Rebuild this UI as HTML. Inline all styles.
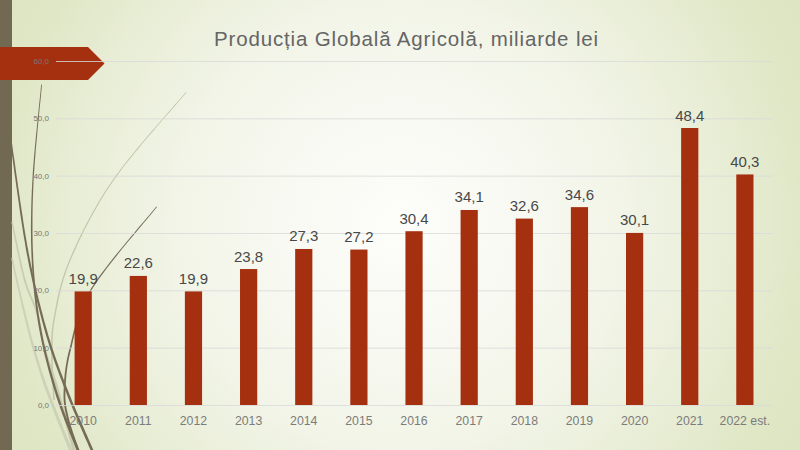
<!DOCTYPE html>
<html><head><meta charset="utf-8">
<style>
html,body{margin:0;padding:0;}
body{width:800px;height:450px;overflow:hidden;position:relative;font-family:"Liberation Sans",sans-serif;
background:radial-gradient(circle 459px at 400px 225px,#fdfdfa 0%,#f8f9f2 26%,#f1f4e6 50%,#e8edd5 72%,#e0e7c6 88%,#dde5c1 100%);}
svg{position:absolute;left:0;top:0;}
.title{position:absolute;left:214px;top:26.5px;font-size:20.5px;letter-spacing:0.85px;color:#656565;white-space:nowrap;}
.dl{position:absolute;width:80px;text-align:center;font-size:15px;line-height:16px;color:#484848;white-space:nowrap;}
.cl{position:absolute;width:80px;text-align:center;font-size:12.3px;line-height:14px;color:#7c7c7c;white-space:nowrap;}
.al{position:absolute;left:0;width:49px;text-align:right;font-size:8px;line-height:10px;color:#767676;}
</style></head><body>
<svg width="800" height="450" viewBox="0 0 800 450">
  <rect x="0" y="0" width="12" height="450" fill="#716952"/>
  <g>
    <path d="M185.9,91.9 L184.2,93.9 L182.3,96.2 L180.1,98.8 L177.6,101.6 L174.9,104.6 L172.1,107.9 L169.1,111.3 L165.9,115.0 L162.6,118.7 L159.2,122.7 L155.7,126.7 L152.1,130.8 L148.5,135.0 L144.9,139.2 L141.3,143.5 L137.7,147.7 L134.2,152.0 L130.8,156.2 L127.4,160.4 L124.2,164.5 L121.1,168.5 L118.2,172.4 L115.4,176.1 L112.9,179.7 L110.5,183.2 L108.1,186.7 L105.8,190.2 L103.6,193.7 L101.4,197.2 L99.3,200.7 L97.2,204.2 L95.2,207.7 L93.2,211.2 L91.3,214.6 L89.4,218.1 L87.6,221.5 L85.8,224.9 L84.1,228.2 L82.4,231.5 L80.8,234.8 L79.2,238.1 L77.7,241.3 L76.2,244.5 L74.7,247.7 L73.3,250.8 L72.0,253.8 L70.7,256.8 L69.4,259.8 L68.2,262.7 L67.1,265.5 L66.0,268.4 L65.0,271.2 L64.0,273.9 L63.1,276.7 L62.3,279.4 L61.5,282.0 L60.7,284.7 L60.0,287.3 L59.4,289.8 L58.8,292.3 L58.2,294.8 L57.6,297.3 L57.1,299.7 L56.6,302.1 L56.1,304.4 L55.7,306.7 L55.3,309.0 L54.9,311.3 L54.5,313.5 L54.1,315.6 L53.7,317.8 L53.3,319.9 L52.9,321.9 L52.6,323.9 L52.3,325.9 L52.1,327.7 L51.9,329.6 L51.7,331.3 L51.6,333.1 L51.4,334.8 L51.3,336.4 L51.2,338.1 L51.2,339.7 L51.1,341.2 L51.1,342.8 L51.1,344.3 L51.1,345.9 L51.1,347.4 L51.1,348.9 L51.1,350.5 L51.2,352.0 L51.2,353.6 L51.2,355.1 L51.2,356.7 L51.2,358.4 L51.2,360.0 L51.3,361.7 L51.3,363.5 L51.3,365.3 L51.4,367.2 L51.4,369.0 L51.5,371.0 L51.6,372.9 L51.7,374.9 L51.8,376.8 L51.9,378.7 L52.0,380.7 L52.1,382.5 L52.2,384.4 L52.3,386.2 L52.4,388.0 L52.5,389.7 L52.7,391.3 L52.8,392.9 L52.9,394.3 L52.9,395.7 L53.0,397.0 L53.1,398.1 L53.2,399.1 L53.2,400.0 L54.8,400.0 L54.7,399.1 L54.7,398.0 L54.6,396.9 L54.5,395.6 L54.4,394.2 L54.3,392.8 L54.2,391.2 L54.1,389.6 L54.0,387.9 L53.9,386.1 L53.8,384.3 L53.7,382.5 L53.5,380.6 L53.4,378.6 L53.3,376.7 L53.2,374.8 L53.1,372.8 L53.0,370.9 L53.0,369.0 L52.9,367.1 L52.8,365.3 L52.8,363.4 L52.8,361.7 L52.8,360.0 L52.7,358.3 L52.7,356.7 L52.7,355.1 L52.7,353.6 L52.7,352.0 L52.6,350.5 L52.6,348.9 L52.6,347.4 L52.6,345.9 L52.6,344.3 L52.6,342.8 L52.6,341.3 L52.6,339.7 L52.7,338.1 L52.8,336.5 L52.9,334.9 L53.0,333.2 L53.1,331.5 L53.3,329.7 L53.5,327.9 L53.8,326.1 L54.0,324.1 L54.3,322.2 L54.7,320.1 L55.1,318.0 L55.4,315.9 L55.8,313.7 L56.2,311.5 L56.6,309.3 L57.1,307.0 L57.5,304.7 L58.0,302.4 L58.4,300.0 L59.0,297.6 L59.5,295.1 L60.1,292.7 L60.7,290.1 L61.3,287.6 L62.0,285.0 L62.8,282.4 L63.5,279.8 L64.4,277.1 L65.3,274.4 L66.2,271.6 L67.2,268.8 L68.3,266.0 L69.4,263.1 L70.6,260.2 L71.8,257.3 L73.1,254.3 L74.5,251.3 L75.9,248.2 L77.3,245.0 L78.8,241.8 L80.3,238.6 L81.9,235.4 L83.5,232.1 L85.1,228.7 L86.9,225.4 L88.6,222.0 L90.4,218.6 L92.3,215.2 L94.2,211.7 L96.2,208.3 L98.2,204.8 L100.2,201.3 L102.4,197.8 L104.5,194.3 L106.7,190.8 L109.0,187.3 L111.4,183.8 L113.7,180.3 L116.3,176.7 L119.0,173.0 L121.9,169.1 L125.0,165.1 L128.2,161.0 L131.5,156.9 L135.0,152.6 L138.5,148.4 L142.0,144.1 L145.6,139.8 L149.2,135.6 L152.8,131.4 L156.3,127.3 L159.8,123.2 L163.2,119.3 L166.5,115.5 L169.7,111.9 L172.7,108.4 L175.6,105.2 L178.2,102.1 L180.7,99.3 L182.9,96.7 L184.8,94.4 L186.5,92.5Z" fill="#c3c6aa"/><path d="M11.2,258.2 L11.3,258.6 L11.4,259.1 L11.5,259.6 L11.6,260.1 L11.7,260.6 L11.8,261.2 L11.9,261.8 L12.0,262.5 L12.2,263.1 L12.3,263.8 L12.5,264.6 L12.6,265.4 L12.8,266.3 L13.0,267.2 L13.2,268.2 L13.4,269.2 L13.6,270.3 L13.9,271.5 L14.2,272.7 L14.4,274.1 L14.8,275.5 L15.1,277.0 L15.5,278.5 L15.8,280.2 L16.2,282.0 L16.7,283.9 L17.2,286.0 L17.7,288.1 L18.2,290.4 L18.7,292.8 L19.3,295.2 L19.9,297.8 L20.5,300.4 L21.1,303.0 L21.7,305.7 L22.3,308.5 L23.0,311.2 L23.6,314.0 L24.3,316.8 L25.0,319.6 L25.6,322.3 L26.3,325.1 L27.0,327.8 L27.6,330.4 L28.3,333.0 L28.9,335.5 L29.6,338.0 L30.2,340.3 L30.8,342.6 L31.4,344.8 L32.0,347.0 L32.6,349.1 L33.2,351.2 L33.8,353.3 L34.4,355.3 L35.0,357.3 L35.6,359.3 L36.2,361.3 L36.8,363.3 L37.4,365.2 L38.0,367.2 L38.6,369.2 L39.2,371.2 L39.9,373.2 L40.5,375.2 L41.2,377.3 L41.9,379.4 L42.6,381.5 L43.4,383.7 L44.1,385.9 L44.9,388.1 L45.7,390.5 L46.6,392.9 L47.5,395.4 L48.5,398.1 L49.6,400.8 L50.6,403.7 L51.7,406.6 L52.9,409.6 L54.1,412.6 L55.2,415.6 L56.4,418.7 L57.6,421.7 L58.8,424.7 L60.0,427.6 L61.1,430.5 L62.2,433.3 L63.3,436.1 L64.4,438.7 L65.4,441.2 L66.3,443.5 L67.2,445.7 L68.0,447.7 L68.7,449.6 L69.4,451.2 L69.9,452.6 L72.9,451.4 L72.3,450.0 L71.7,448.4 L70.9,446.5 L70.1,444.5 L69.2,442.3 L68.3,440.0 L67.2,437.5 L66.2,434.9 L65.1,432.2 L63.9,429.4 L62.7,426.5 L61.6,423.6 L60.4,420.6 L59.1,417.6 L57.9,414.6 L56.7,411.6 L55.5,408.6 L54.4,405.6 L53.2,402.7 L52.1,399.9 L51.1,397.1 L50.1,394.5 L49.1,391.9 L48.3,389.5 L47.4,387.3 L46.6,385.0 L45.9,382.8 L45.1,380.7 L44.4,378.6 L43.7,376.5 L43.0,374.4 L42.3,372.4 L41.6,370.4 L41.0,368.4 L40.3,366.5 L39.7,364.5 L39.1,362.5 L38.5,360.6 L37.9,358.6 L37.3,356.6 L36.7,354.6 L36.1,352.6 L35.5,350.5 L34.9,348.5 L34.3,346.3 L33.6,344.2 L33.0,342.0 L32.4,339.7 L31.7,337.4 L31.1,334.9 L30.4,332.4 L29.7,329.9 L29.1,327.2 L28.4,324.6 L27.7,321.8 L27.0,319.1 L26.3,316.3 L25.6,313.5 L25.0,310.8 L24.3,308.0 L23.6,305.3 L23.0,302.6 L22.3,299.9 L21.7,297.3 L21.1,294.8 L20.5,292.3 L20.0,290.0 L19.4,287.7 L18.9,285.5 L18.4,283.5 L18.0,281.6 L17.6,279.8 L17.2,278.1 L16.8,276.6 L16.5,275.1 L16.1,273.7 L15.8,272.4 L15.6,271.1 L15.3,270.0 L15.1,268.9 L14.8,267.8 L14.6,266.9 L14.4,265.9 L14.3,265.1 L14.1,264.3 L13.9,263.5 L13.8,262.8 L13.7,262.1 L13.5,261.5 L13.4,260.9 L13.3,260.3 L13.2,259.8 L13.1,259.3 L13.0,258.8 L12.9,258.3 L12.8,257.8Z" fill="#cdd1b5"/><path d="M11.3,222.1 L11.6,223.5 L11.9,225.0 L12.3,226.8 L12.7,228.8 L13.1,230.9 L13.6,233.2 L14.1,235.6 L14.6,238.2 L15.1,240.8 L15.7,243.5 L16.2,246.3 L16.8,249.2 L17.4,252.0 L18.0,254.9 L18.6,257.8 L19.2,260.6 L19.8,263.4 L20.4,266.2 L21.0,268.8 L21.6,271.4 L22.2,273.8 L22.8,276.1 L23.3,278.3 L23.8,280.2 L24.3,282.1 L24.9,283.8 L25.4,285.5 L25.9,287.1 L26.4,288.6 L27.0,290.0 L27.5,291.4 L28.0,292.7 L28.5,294.0 L29.1,295.2 L29.6,296.5 L30.1,297.6 L30.6,298.8 L31.1,299.9 L31.6,301.1 L32.1,302.2 L32.6,303.4 L33.1,304.6 L33.5,305.7 L34.0,307.0 L34.4,308.2 L34.9,309.5 L35.3,310.9 L35.7,312.3 L36.1,313.7 L36.5,315.2 L36.9,316.7 L37.2,318.2 L37.6,319.7 L37.9,321.3 L38.2,322.8 L38.5,324.4 L38.8,325.9 L39.2,327.5 L39.4,329.1 L39.7,330.7 L40.0,332.3 L40.3,333.9 L40.7,335.5 L41.0,337.2 L41.3,338.8 L41.6,340.4 L42.0,342.1 L42.3,343.7 L42.7,345.4 L43.1,347.0 L43.5,348.7 L43.9,350.3 L44.3,351.9 L44.8,353.5 L45.2,355.1 L45.7,356.6 L46.2,358.2 L46.7,359.7 L47.1,361.2 L47.6,362.7 L48.1,364.3 L48.6,365.8 L49.2,367.3 L49.7,368.9 L50.2,370.5 L50.7,372.1 L51.3,373.7 L51.8,375.4 L52.4,377.1 L53.0,378.8 L53.5,380.6 L54.1,382.4 L54.7,384.3 L55.3,386.3 L55.9,388.3 L56.5,390.4 L57.1,392.6 L57.8,394.9 L58.4,397.5 L59.2,400.1 L59.9,402.9 L60.7,405.8 L61.5,408.7 L62.3,411.7 L63.1,414.7 L63.9,417.8 L64.7,420.8 L65.5,423.9 L66.3,426.9 L67.0,429.8 L67.8,432.7 L68.5,435.5 L69.2,438.2 L69.9,440.7 L70.5,443.1 L71.1,445.4 L71.7,447.4 L72.1,449.3 L72.6,451.0 L73.0,452.4 L75.8,451.6 L75.5,450.2 L75.0,448.6 L74.5,446.7 L74.0,444.6 L73.4,442.4 L72.7,440.0 L72.0,437.4 L71.3,434.7 L70.6,432.0 L69.8,429.1 L69.0,426.1 L68.2,423.1 L67.4,420.1 L66.6,417.1 L65.7,414.0 L64.9,411.0 L64.1,408.0 L63.3,405.1 L62.5,402.2 L61.7,399.4 L61.0,396.8 L60.3,394.2 L59.6,391.9 L58.9,389.6 L58.3,387.5 L57.7,385.5 L57.1,383.6 L56.5,381.7 L55.9,379.8 L55.3,378.0 L54.7,376.3 L54.2,374.6 L53.6,372.9 L53.1,371.3 L52.5,369.7 L52.0,368.1 L51.4,366.6 L50.9,365.0 L50.4,363.5 L49.9,362.0 L49.4,360.5 L48.9,359.0 L48.4,357.5 L47.9,356.0 L47.5,354.4 L47.0,352.9 L46.5,351.3 L46.1,349.7 L45.7,348.1 L45.3,346.5 L44.9,344.9 L44.5,343.2 L44.1,341.6 L43.8,340.0 L43.5,338.4 L43.1,336.8 L42.8,335.1 L42.5,333.5 L42.2,331.9 L41.9,330.3 L41.6,328.7 L41.2,327.1 L40.9,325.5 L40.6,323.9 L40.3,322.4 L40.0,320.8 L39.6,319.3 L39.3,317.7 L38.9,316.2 L38.5,314.7 L38.1,313.2 L37.7,311.7 L37.2,310.3 L36.8,308.9 L36.3,307.6 L35.9,306.3 L35.4,305.0 L34.9,303.8 L34.4,302.6 L33.9,301.5 L33.4,300.3 L32.9,299.2 L32.4,298.0 L31.9,296.9 L31.3,295.7 L30.8,294.5 L30.3,293.3 L29.8,292.0 L29.2,290.7 L28.7,289.4 L28.2,287.9 L27.7,286.5 L27.1,284.9 L26.6,283.3 L26.1,281.6 L25.6,279.8 L25.0,277.8 L24.5,275.7 L23.9,273.4 L23.3,271.0 L22.7,268.4 L22.1,265.8 L21.5,263.1 L20.9,260.3 L20.2,257.4 L19.6,254.6 L19.0,251.7 L18.4,248.8 L17.8,246.0 L17.2,243.2 L16.6,240.5 L16.1,237.8 L15.5,235.3 L15.0,232.9 L14.5,230.6 L14.1,228.5 L13.7,226.5 L13.3,224.7 L13.0,223.2 L12.7,221.9Z" fill="#c8ccb0"/><path d="M41.2,84.5 L41.0,86.6 L40.7,89.1 L40.5,91.9 L40.1,95.0 L39.8,98.4 L39.4,102.0 L39.0,105.8 L38.6,109.8 L38.2,114.0 L37.7,118.3 L37.3,122.7 L36.8,127.2 L36.4,131.8 L35.9,136.4 L35.5,141.1 L35.0,145.7 L34.6,150.4 L34.2,154.9 L33.8,159.4 L33.5,163.8 L33.1,168.1 L32.8,172.2 L32.6,176.2 L32.4,180.0 L32.2,183.6 L32.0,187.2 L31.8,190.8 L31.7,194.3 L31.5,197.8 L31.4,201.3 L31.3,204.7 L31.2,208.2 L31.1,211.6 L31.1,214.9 L31.0,218.3 L31.0,221.6 L30.9,224.9 L30.9,228.2 L30.9,231.4 L31.0,234.7 L31.0,237.9 L31.0,241.1 L31.1,244.3 L31.2,247.4 L31.3,250.6 L31.4,253.8 L31.5,256.9 L31.7,260.0 L31.8,263.2 L32.0,266.3 L32.2,269.3 L32.4,272.4 L32.6,275.4 L32.8,278.4 L33.0,281.4 L33.3,284.3 L33.6,287.3 L33.8,290.2 L34.1,293.1 L34.4,296.0 L34.8,298.9 L35.1,301.8 L35.5,304.7 L35.9,307.5 L36.2,310.4 L36.6,313.2 L37.1,316.1 L37.5,318.9 L37.9,321.7 L38.4,324.5 L38.9,327.4 L39.4,330.2 L39.9,333.0 L40.4,335.8 L41.0,338.6 L41.6,341.4 L42.2,344.2 L42.8,347.0 L43.4,349.8 L44.0,352.6 L44.7,355.4 L45.4,358.1 L46.1,360.9 L46.8,363.6 L47.5,366.3 L48.2,369.0 L48.9,371.7 L49.7,374.4 L50.4,377.1 L51.2,379.8 L51.9,382.4 L52.7,385.0 L53.5,387.6 L54.3,390.2 L55.1,392.8 L55.9,395.4 L56.7,397.9 L57.6,400.6 L58.5,403.3 L59.4,406.0 L60.4,408.8 L61.4,411.6 L62.4,414.4 L63.5,417.1 L64.5,419.9 L65.6,422.7 L66.7,425.4 L67.7,428.0 L68.7,430.6 L69.7,433.2 L70.7,435.6 L71.7,438.0 L72.6,440.3 L73.5,442.4 L74.3,444.5 L75.0,446.4 L75.7,448.2 L76.4,449.8 L77.0,451.2 L77.4,452.5 L80.0,451.5 L79.5,450.2 L78.9,448.8 L78.2,447.2 L77.5,445.4 L76.7,443.5 L75.9,441.4 L75.0,439.3 L74.1,437.0 L73.1,434.7 L72.1,432.2 L71.1,429.7 L70.1,427.1 L69.0,424.4 L68.0,421.7 L66.9,419.0 L65.8,416.3 L64.8,413.5 L63.7,410.7 L62.7,408.0 L61.7,405.2 L60.8,402.5 L59.8,399.8 L59.0,397.2 L58.1,394.6 L57.3,392.1 L56.5,389.5 L55.7,387.0 L55.0,384.4 L54.2,381.7 L53.4,379.1 L52.6,376.5 L51.9,373.8 L51.1,371.1 L50.4,368.4 L49.6,365.7 L48.9,363.0 L48.2,360.3 L47.5,357.6 L46.8,354.8 L46.2,352.1 L45.5,349.3 L44.9,346.6 L44.2,343.8 L43.6,341.0 L43.0,338.2 L42.5,335.4 L41.9,332.6 L41.4,329.8 L40.9,327.0 L40.4,324.2 L39.9,321.4 L39.5,318.6 L39.0,315.8 L38.6,312.9 L38.2,310.1 L37.8,307.3 L37.4,304.4 L37.0,301.6 L36.7,298.7 L36.3,295.8 L36.0,292.9 L35.7,290.0 L35.4,287.1 L35.1,284.2 L34.8,281.2 L34.6,278.2 L34.3,275.3 L34.1,272.2 L33.9,269.2 L33.7,266.1 L33.5,263.1 L33.3,260.0 L33.2,256.8 L33.1,253.7 L32.9,250.6 L32.8,247.4 L32.7,244.2 L32.6,241.1 L32.6,237.9 L32.5,234.6 L32.5,231.4 L32.5,228.2 L32.5,224.9 L32.5,221.6 L32.5,218.3 L32.5,214.9 L32.6,211.6 L32.6,208.2 L32.7,204.8 L32.8,201.3 L32.9,197.9 L33.0,194.4 L33.2,190.8 L33.3,187.3 L33.5,183.7 L33.6,180.0 L33.8,176.3 L34.1,172.3 L34.4,168.2 L34.7,163.9 L35.0,159.5 L35.4,155.0 L35.7,150.5 L36.1,145.8 L36.6,141.2 L37.0,136.5 L37.4,131.9 L37.8,127.3 L38.3,122.8 L38.7,118.4 L39.1,114.0 L39.5,109.9 L39.9,105.9 L40.3,102.1 L40.7,98.5 L41.0,95.1 L41.3,92.0 L41.6,89.2 L41.8,86.7 L42.0,84.5Z" fill="#766c56"/><path d="M10.2,142.1 L10.6,144.6 L11.0,147.4 L11.4,150.6 L11.9,154.2 L12.4,158.0 L13.0,162.2 L13.6,166.6 L14.2,171.2 L14.9,175.9 L15.6,180.9 L16.3,186.0 L17.0,191.1 L17.8,196.4 L18.5,201.6 L19.3,206.9 L20.0,212.2 L20.8,217.4 L21.6,222.6 L22.4,227.6 L23.1,232.5 L23.9,237.3 L24.7,241.8 L25.4,246.1 L26.1,250.2 L26.8,254.1 L27.6,257.9 L28.3,261.7 L29.0,265.4 L29.8,269.0 L30.5,272.6 L31.3,276.2 L32.0,279.7 L32.8,283.2 L33.5,286.6 L34.3,289.9 L35.1,293.2 L35.9,296.5 L36.6,299.8 L37.4,303.0 L38.2,306.1 L39.0,309.2 L39.8,312.3 L40.6,315.4 L41.4,318.4 L42.2,321.4 L43.0,324.4 L43.8,327.4 L44.6,330.3 L45.4,333.2 L46.2,336.0 L47.1,338.8 L47.9,341.5 L48.7,344.1 L49.5,346.7 L50.3,349.3 L51.1,351.8 L52.0,354.3 L52.8,356.7 L53.6,359.1 L54.4,361.5 L55.3,363.9 L56.1,366.3 L57.0,368.6 L57.9,371.0 L58.8,373.4 L59.6,375.8 L60.5,378.1 L61.5,380.6 L62.4,383.0 L63.3,385.4 L64.3,387.9 L65.2,390.4 L66.3,393.1 L67.3,395.8 L68.4,398.5 L69.6,401.4 L70.8,404.3 L72.1,407.3 L73.3,410.3 L74.6,413.3 L75.9,416.3 L77.1,419.3 L78.4,422.3 L79.7,425.3 L81.0,428.2 L82.2,431.0 L83.4,433.7 L84.5,436.4 L85.6,438.9 L86.7,441.3 L87.7,443.6 L88.6,445.8 L89.5,447.7 L90.3,449.5 L91.0,451.1 L91.6,452.5 L94.0,451.5 L93.4,450.1 L92.7,448.5 L92.0,446.7 L91.1,444.7 L90.1,442.6 L89.1,440.3 L88.1,437.9 L87.0,435.3 L85.8,432.7 L84.6,429.9 L83.3,427.1 L82.1,424.2 L80.8,421.3 L79.5,418.3 L78.2,415.3 L76.9,412.3 L75.6,409.3 L74.4,406.3 L73.1,403.4 L71.9,400.5 L70.8,397.6 L69.6,394.8 L68.6,392.1 L67.6,389.6 L66.6,387.0 L65.6,384.6 L64.7,382.1 L63.7,379.7 L62.8,377.3 L61.9,374.9 L61.0,372.5 L60.1,370.2 L59.2,367.8 L58.4,365.5 L57.5,363.1 L56.7,360.7 L55.8,358.3 L55.0,355.9 L54.2,353.5 L53.3,351.0 L52.5,348.5 L51.7,346.0 L50.9,343.4 L50.1,340.8 L49.2,338.1 L48.4,335.4 L47.6,332.6 L46.8,329.7 L46.0,326.8 L45.1,323.8 L44.3,320.9 L43.5,317.9 L42.7,314.8 L41.9,311.8 L41.1,308.7 L40.3,305.6 L39.5,302.4 L38.7,299.2 L37.9,296.0 L37.1,292.8 L36.4,289.4 L35.6,286.1 L34.8,282.7 L34.1,279.3 L33.3,275.8 L32.5,272.2 L31.8,268.6 L31.0,265.0 L30.3,261.3 L29.5,257.5 L28.8,253.7 L28.1,249.8 L27.3,245.8 L26.6,241.5 L25.8,236.9 L25.0,232.2 L24.2,227.3 L23.4,222.3 L22.7,217.2 L21.9,211.9 L21.1,206.7 L20.3,201.4 L19.5,196.1 L18.8,190.9 L18.0,185.7 L17.3,180.6 L16.6,175.7 L15.9,170.9 L15.3,166.3 L14.7,161.9 L14.1,157.8 L13.5,154.0 L13.0,150.4 L12.6,147.2 L12.2,144.3 L11.8,141.9Z" fill="#766c56"/><path d="M156.4,206.4 L154.9,208.3 L153.1,210.5 L151.0,213.0 L148.7,215.7 L146.3,218.6 L143.6,221.8 L140.7,225.1 L137.7,228.6 L134.7,232.3 L131.5,236.0 L128.2,239.9 L124.9,243.9 L121.6,247.9 L118.3,251.9 L115.0,255.9 L111.8,260.0 L108.7,264.0 L105.6,267.9 L102.7,271.7 L99.9,275.5 L97.3,279.1 L94.9,282.6 L92.7,285.9 L90.7,289.0 L89.0,291.9 L87.3,294.9 L85.8,297.7 L84.4,300.6 L83.1,303.4 L81.8,306.2 L80.7,308.9 L79.7,311.6 L78.7,314.2 L77.8,316.9 L77.0,319.4 L76.2,322.0 L75.5,324.5 L74.8,326.9 L74.1,329.4 L73.5,331.8 L73.0,334.1 L72.4,336.5 L71.9,338.8 L71.3,341.0 L70.8,343.3 L70.3,345.5 L69.7,347.6 L69.2,349.8 L68.6,351.9 L68.1,354.0 L67.7,356.1 L67.2,358.1 L66.8,360.1 L66.5,362.0 L66.1,363.9 L65.8,365.8 L65.5,367.7 L65.3,369.5 L65.0,371.3 L64.8,373.0 L64.6,374.7 L64.5,376.4 L64.3,378.1 L64.2,379.7 L64.1,381.4 L64.0,382.9 L63.9,384.5 L63.8,386.0 L63.7,387.6 L63.7,389.1 L63.6,390.5 L63.6,392.0 L63.5,393.4 L63.5,394.8 L63.5,396.1 L63.5,397.3 L63.6,398.5 L63.6,399.7 L63.7,400.9 L63.8,402.0 L63.9,403.1 L64.0,404.1 L64.1,405.2 L64.3,406.2 L64.4,407.2 L64.6,408.3 L64.8,409.3 L65.0,410.3 L65.2,411.3 L65.4,412.4 L65.7,413.5 L65.9,414.6 L66.2,415.7 L66.4,416.8 L66.7,418.0 L67.0,419.2 L67.3,420.5 L67.7,421.9 L68.1,423.3 L68.5,424.8 L69.0,426.3 L69.4,427.9 L69.9,429.5 L70.4,431.1 L71.0,432.7 L71.5,434.3 L72.0,435.9 L72.6,437.5 L73.1,439.1 L73.6,440.6 L74.1,442.1 L74.6,443.6 L75.1,445.0 L75.6,446.3 L76.0,447.5 L76.4,448.7 L76.8,449.8 L77.1,450.7 L77.4,451.6 L77.7,452.3 L79.7,451.7 L79.5,450.9 L79.2,450.0 L78.9,449.1 L78.5,448.0 L78.1,446.8 L77.6,445.6 L77.2,444.3 L76.7,442.9 L76.2,441.4 L75.6,439.9 L75.1,438.4 L74.6,436.8 L74.0,435.3 L73.5,433.7 L72.9,432.1 L72.4,430.5 L71.9,428.9 L71.4,427.3 L70.9,425.8 L70.5,424.2 L70.0,422.8 L69.7,421.4 L69.3,420.0 L69.0,418.8 L68.7,417.5 L68.4,416.4 L68.1,415.2 L67.9,414.1 L67.6,413.0 L67.4,412.0 L67.2,410.9 L66.9,409.9 L66.7,408.9 L66.5,407.9 L66.4,406.9 L66.2,405.9 L66.1,404.9 L65.9,403.9 L65.8,402.9 L65.7,401.8 L65.6,400.7 L65.5,399.6 L65.5,398.5 L65.4,397.3 L65.4,396.0 L65.4,394.8 L65.4,393.4 L65.4,392.0 L65.5,390.6 L65.5,389.1 L65.6,387.6 L65.6,386.1 L65.7,384.6 L65.8,383.0 L65.9,381.5 L66.0,379.9 L66.1,378.2 L66.3,376.6 L66.4,374.9 L66.6,373.2 L66.8,371.5 L67.0,369.7 L67.3,367.9 L67.5,366.1 L67.8,364.2 L68.2,362.3 L68.5,360.4 L68.9,358.4 L69.3,356.4 L69.8,354.4 L70.3,352.3 L70.8,350.2 L71.4,348.0 L71.9,345.9 L72.4,343.6 L72.9,341.4 L73.4,339.1 L74.0,336.8 L74.5,334.5 L75.1,332.2 L75.6,329.8 L76.3,327.3 L76.9,324.9 L77.6,322.4 L78.4,319.9 L79.2,317.3 L80.1,314.7 L81.0,312.1 L82.1,309.4 L83.2,306.7 L84.4,304.0 L85.6,301.2 L87.0,298.4 L88.5,295.5 L90.1,292.6 L91.9,289.6 L93.8,286.6 L96.0,283.3 L98.3,279.8 L100.9,276.2 L103.7,272.5 L106.6,268.6 L109.6,264.7 L112.7,260.7 L115.9,256.7 L119.2,252.6 L122.4,248.6 L125.7,244.5 L129.0,240.6 L132.2,236.7 L135.4,232.9 L138.5,229.2 L141.4,225.7 L144.3,222.3 L146.9,219.2 L149.4,216.2 L151.7,213.5 L153.7,211.0 L155.5,208.8 L157.0,207.0Z" fill="#766c56"/>
  </g>
  <polygon points="0,47 88,47 104.5,63.5 88,80 0,80" fill="#a53010"/>
  <g stroke="#d9d9d9" stroke-opacity="0.8" stroke-width="1">
    <line x1="56.0" y1="405.50" x2="772.7" y2="405.50"/><line x1="56.0" y1="348.17" x2="772.7" y2="348.17"/><line x1="56.0" y1="290.83" x2="772.7" y2="290.83"/><line x1="56.0" y1="233.50" x2="772.7" y2="233.50"/><line x1="56.0" y1="176.17" x2="772.7" y2="176.17"/><line x1="56.0" y1="118.83" x2="772.7" y2="118.83"/><line x1="56.0" y1="61.50" x2="772.7" y2="61.50"/>
  </g>
  <g fill="#a53010">
    <rect x="74.60" y="291.41" width="17.2" height="113.59"/><rect x="129.74" y="275.93" width="17.2" height="129.07"/><rect x="184.88" y="291.41" width="17.2" height="113.59"/><rect x="240.02" y="269.05" width="17.2" height="135.95"/><rect x="295.16" y="248.98" width="17.2" height="156.02"/><rect x="350.30" y="249.55" width="17.2" height="155.45"/><rect x="405.44" y="231.21" width="17.2" height="173.79"/><rect x="460.58" y="209.99" width="17.2" height="195.01"/><rect x="515.72" y="218.59" width="17.2" height="186.41"/><rect x="570.86" y="207.13" width="17.2" height="197.87"/><rect x="626.00" y="232.93" width="17.2" height="172.07"/><rect x="681.14" y="128.01" width="17.2" height="276.99"/><rect x="736.28" y="174.45" width="17.2" height="230.55"/>
  </g>
</svg>
<div class="title">Producția Globală Agricolă, miliarde lei</div>
<div class="al" style="top:400.90px">0,0</div><div class="al" style="top:343.57px">10,0</div><div class="al" style="top:286.23px">20,0</div><div class="al" style="top:228.90px">30,0</div><div class="al" style="top:171.57px">40,0</div><div class="al" style="top:114.23px">50,0</div><div class="al" style="top:56.90px">60,0</div>
<div class="dl" style="left:43.20px;top:270.91px">19,9</div><div class="cl" style="left:43.20px;top:414.20px">2010</div><div class="dl" style="left:98.34px;top:255.43px">22,6</div><div class="cl" style="left:98.34px;top:414.20px">2011</div><div class="dl" style="left:153.48px;top:270.91px">19,9</div><div class="cl" style="left:153.48px;top:414.20px">2012</div><div class="dl" style="left:208.62px;top:248.55px">23,8</div><div class="cl" style="left:208.62px;top:414.20px">2013</div><div class="dl" style="left:263.76px;top:228.48px">27,3</div><div class="cl" style="left:263.76px;top:414.20px">2014</div><div class="dl" style="left:318.90px;top:229.05px">27,2</div><div class="cl" style="left:318.90px;top:414.20px">2015</div><div class="dl" style="left:374.04px;top:210.71px">30,4</div><div class="cl" style="left:374.04px;top:414.20px">2016</div><div class="dl" style="left:429.18px;top:189.49px">34,1</div><div class="cl" style="left:429.18px;top:414.20px">2017</div><div class="dl" style="left:484.32px;top:198.09px">32,6</div><div class="cl" style="left:484.32px;top:414.20px">2018</div><div class="dl" style="left:539.46px;top:186.63px">34,6</div><div class="cl" style="left:539.46px;top:414.20px">2019</div><div class="dl" style="left:594.60px;top:212.43px">30,1</div><div class="cl" style="left:594.60px;top:414.20px">2020</div><div class="dl" style="left:649.74px;top:107.51px">48,4</div><div class="cl" style="left:649.74px;top:414.20px">2021</div><div class="dl" style="left:704.88px;top:153.95px">40,3</div><div class="cl" style="left:704.88px;top:414.20px">2022 est.</div>
</body></html>
